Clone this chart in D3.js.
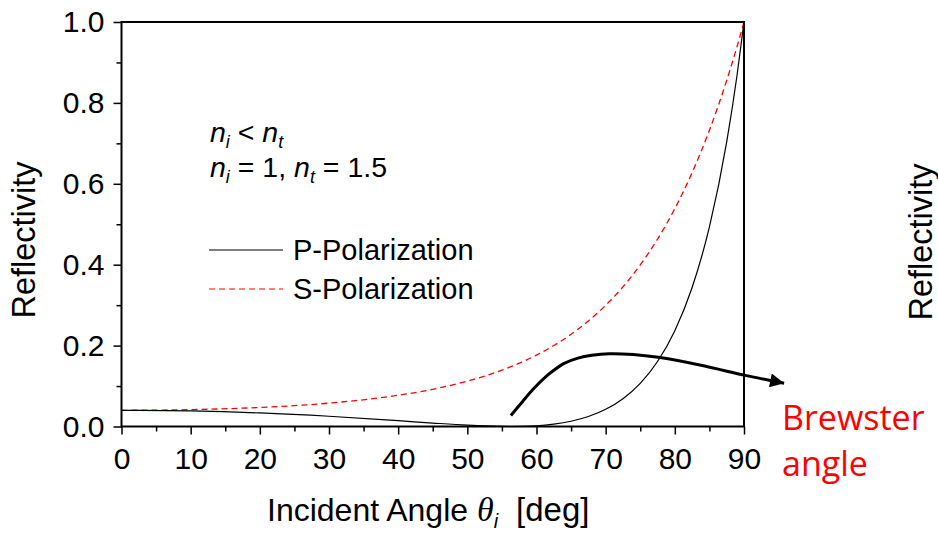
<!DOCTYPE html>
<html>
<head>
<meta charset="utf-8">
<script src="https://cdn.jsdelivr.net/npm/d3@7"></script>
<style>
  body { margin: 0; background: #fff; }
  svg text { font-family: "Liberation Sans", Arial, sans-serif; fill: #000; }
</style>
</head>
<body>
<svg id="chart" width="938" height="533"></svg>
<script>
// angle of incidence (deg)
var angles = [0, 10, 20, 30, 40, 45, 50, 55, 56.3, 60, 62.5, 65, 67.5, 70, 72.5, 75, 77.5, 80, 82.5, 85, 87.5, 89, 90];
// P-polarization reflectivity
var pValues = [0.040, 0.0384, 0.0335, 0.0253, 0.0143, 0.0085, 0.0033, 0.0002, 0, 0.0018, 0.0058, 0.0130, 0.0246, 0.0425, 0.0688, 0.1068, 0.1607, 0.2368, 0.3436, 0.4933, 0.7035, 0.8689, 1.0];
// S-polarization reflectivity
var sValues = [0.040, 0.0417, 0.0471, 0.0578, 0.0772, 0.0920, 0.1121, 0.1393, 0.1479, 0.1766, 0.2002, 0.2281, 0.2609, 0.2996, 0.3453, 0.3994, 0.4632, 0.5386, 0.6276, 0.7323, 0.8556, 0.9395, 1.0];
// annotation arrow path (angle, reflectivity)
var arrowAngles = [56.3, 58, 59.5, 61, 62.5, 64, 66, 68, 70.5, 74, 77.6, 83.6, 90, 92.3, 95.8];
var arrowValues = [0.027, 0.062, 0.092, 0.118, 0.139, 0.156, 0.169, 0.176, 0.180, 0.178, 0.171, 0.152, 0.127, 0.119, 0.107];

var xTicks = [0, 10, 20, 30, 40, 50, 60, 70, 80, 90];
var yTicks = [0, 0.2, 0.4, 0.6, 0.8, 1.0];

var svg = d3.select("#chart");
var mLeft = 121.5, mRight = 744, mTop = 22, mBottom = 426.5;

var x = d3.scaleLinear().domain([0, 90]).range([mLeft, mRight]);
var y = d3.scaleLinear().domain([0, 1]).range([mBottom, mTop]);

var pData = angles.map(function (a, i) { return [a, pValues[i]]; });
var sData = angles.map(function (a, i) { return [a, sValues[i]]; });
var arrowData = arrowAngles.map(function (a, i) { return [a, arrowValues[i]]; });

var line = d3.line()
    .x(function (d) { return x(d[0]); })
    .y(function (d) { return y(d[1]); })
    .curve(d3.curveMonotoneX);

var arrowLine = d3.line()
    .x(function (d) { return x(d[0]); })
    .y(function (d) { return y(d[1]); })
    .curve(d3.curveCatmullRom);

// minor ticks
var xMinor = d3.axisBottom(x).tickValues(d3.range(5, 90, 10)).tickSize(5).tickFormat("");
var yMinor = d3.axisLeft(y).tickValues(d3.range(0.1, 1, 0.2)).tickSize(5).tickFormat("");

svg.append("g")
    .attr("transform", "translate(0," + mBottom + ")")
    .call(xMinor)
    .call(function (g) { g.select(".domain").remove(); })
    .selectAll("line").attr("stroke-width", 1.5);

svg.append("g")
    .attr("transform", "translate(" + mLeft + ",0)")
    .call(yMinor)
    .call(function (g) { g.select(".domain").remove(); })
    .selectAll("line").attr("stroke-width", 1.5);

var xAxis = d3.axisBottom(x).tickValues(xTicks).tickSize(8).tickPadding(13).tickFormat(d3.format("d"));
var yAxis = d3.axisLeft(y).tickValues(yTicks).tickSize(8).tickPadding(9).tickFormat(d3.format(".1f"));

var gx = svg.append("g")
    .attr("transform", "translate(0," + mBottom + ")")
    .call(xAxis);
gx.select(".domain").remove();
gx.selectAll("line").attr("stroke-width", 1.5);
gx.selectAll("text").style("font-size", "30px").style("font-family", "Liberation Sans, Arial, sans-serif");

var gy = svg.append("g")
    .attr("transform", "translate(" + mLeft + ",0)")
    .call(yAxis);
gy.select(".domain").remove();
gy.selectAll("line").attr("stroke-width", 1.5);
gy.selectAll("text").style("font-size", "30px").style("font-family", "Liberation Sans, Arial, sans-serif");

// frame
svg.append("rect")
    .attr("x", mLeft)
    .attr("y", mTop)
    .attr("width", mRight - mLeft)
    .attr("height", mBottom - mTop)
    .attr("fill", "none")
    .attr("stroke", "#000")
    .attr("stroke-width", 2);

// curves
svg.append("path")
    .datum(sData)
    .attr("d", line)
    .attr("fill", "none")
    .attr("stroke", "#ff0000")
    .attr("stroke-width", 1.3)
    .attr("stroke-dasharray", "6,4");

svg.append("path")
    .datum(pData)
    .attr("d", line)
    .attr("fill", "none")
    .attr("stroke", "#000")
    .attr("stroke-width", 1.2);

// arrow
svg.append("defs").append("marker")
    .attr("id", "head")
    .attr("viewBox", "0 0 10 10")
    .attr("refX", 10)
    .attr("refY", 5)
    .attr("markerUnits", "userSpaceOnUse")
    .attr("markerWidth", 17)
    .attr("markerHeight", 14)
    .attr("orient", "auto")
    .append("path")
    .attr("d", "M0,0 L10,5 L0,10 Z")
    .attr("fill", "#000");

svg.append("path")
    .datum(arrowData)
    .attr("d", arrowLine)
    .attr("fill", "none")
    .attr("stroke", "#000")
    .attr("stroke-width", 3)
    .attr("marker-end", "url(#head)");

// axis titles
svg.append("text")
    .attr("transform", "translate(35,240) rotate(-90)")
    .attr("text-anchor", "middle")
    .style("font-size", "32.5px")
    .text("Reflectivity");

svg.append("text")
    .attr("transform", "translate(932,242) rotate(-90)")
    .attr("text-anchor", "middle")
    .style("font-size", "32.5px")
    .text("Reflectivity");

var xt = svg.append("text")
    .attr("x", 267)
    .attr("y", 521)
    .style("font-size", "32px");
xt.append("tspan").text("Incident Angle ");
xt.append("tspan").style("font-family", "Liberation Serif, serif").style("font-style", "italic").style("font-size", "34px").text("θ");
xt.append("tspan").attr("dy", 7).style("font-size", "20px").style("font-style", "italic").text("i");
xt.append("tspan").attr("dy", -7).attr("dx", 18).style("font-size", "33px").text("[deg]");

// conditions
var c1 = svg.append("text").attr("x", 210).attr("y", 142).style("font-size", "28.5px");
c1.append("tspan").style("font-style", "italic").text("n");
c1.append("tspan").attr("dy", 6).style("font-size", "18px").style("font-style", "italic").text("i");
c1.append("tspan").attr("dy", -6).text(" < ");
c1.append("tspan").style("font-style", "italic").text("n");
c1.append("tspan").attr("dy", 6).style("font-size", "18px").style("font-style", "italic").text("t");

var c2 = svg.append("text").attr("x", 210).attr("y", 177).style("font-size", "28.5px");
c2.append("tspan").style("font-style", "italic").text("n");
c2.append("tspan").attr("dy", 6).style("font-size", "18px").style("font-style", "italic").text("i");
c2.append("tspan").attr("dy", -6).text(" = 1, ");
c2.append("tspan").style("font-style", "italic").text("n");
c2.append("tspan").attr("dy", 6).style("font-size", "18px").style("font-style", "italic").text("t");
c2.append("tspan").attr("dy", -6).text(" = 1.5");

// legend
var legendNames = ["P-Polarization", "S-Polarization"];
var legend = svg.selectAll(".legend")
    .data(legendNames)
    .enter()
    .append("g")
    .attr("class", "legend")
    .attr("transform", function (d, i) { return "translate(0," + (250 + i * 39) + ")"; });

legend.append("line")
    .attr("x1", 209)
    .attr("x2", 283)
    .attr("y1", 0)
    .attr("y2", 0)
    .attr("stroke", function (d, i) { return i === 0 ? "#000" : "#ff0000"; })
    .attr("stroke-width", 1.2)
    .attr("stroke-dasharray", function (d, i) { return i === 0 ? null : "6,4"; });

legend.append("text")
    .attr("x", 293)
    .attr("y", 10)
    .style("font-size", "29px")
    .text(function (d) { return d; });

// Brewster label
var bw = svg.append("text")
    .attr("x", 782)
    .attr("y", 430)
    .style("font-family", "Open Sans, Noto Sans, sans-serif")
    .style("font-size", "34px")
    .style("fill", "#ff0000");
bw.append("tspan").attr("x", 782).text("Brewster");
bw.append("tspan").attr("x", 782).attr("dy", 46).text("angle");
</script>
</body>
</html>
